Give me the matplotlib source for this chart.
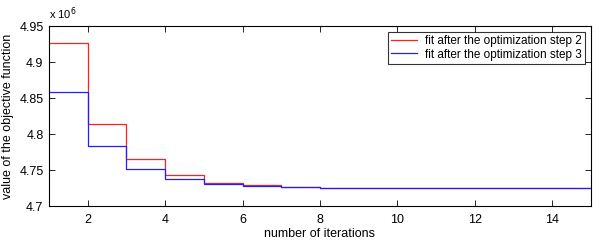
import matplotlib
matplotlib.use("Agg")
import matplotlib.pyplot as plt
from matplotlib.ticker import FuncFormatter, MultipleLocator

plt.rcParams['font.family'] = ['Liberation Sans', 'DejaVu Sans']

iterations = list(range(1, 16))
step2 = [4.926e6, 4.814e6, 4.765e6, 4.743e6, 4.732e6, 4.729e6, 4.7264e6, 4.7255e6,
         4.7248e6, 4.7247e6, 4.7247e6, 4.7247e6, 4.7247e6, 4.7247e6, 4.7247e6]
step3 = [4.858e6, 4.784e6, 4.752e6, 4.737e6, 4.731e6, 4.728e6, 4.7265e6, 4.7255e6,
         4.7248e6, 4.7247e6, 4.7247e6, 4.7247e6, 4.7247e6, 4.7247e6, 4.7247e6]
labels = ['fit after the optimization step 2', 'fit after the optimization step 3']

fig = plt.figure(figsize=(6.0, 2.49), dpi=100)
ax = fig.add_axes([49/600, 1 - 206/249, (591-49)/600, (206-26)/249])

ax.plot(iterations, step2, drawstyle='steps-post', color='#ff2020', lw=0.9, label=labels[0])
ax.plot(iterations, step3, drawstyle='steps-post', color='#2020ff', lw=0.9, label=labels[1])

ax.set_xlim(1, 15)
ax.set_ylim(4.7e6, 4.95e6)
ax.xaxis.set_major_locator(MultipleLocator(2))
ax.yaxis.set_major_locator(MultipleLocator(0.05e6))
ax.yaxis.set_major_formatter(FuncFormatter(lambda v, p: '%g' % round(v / 1e6, 4)))
ax.tick_params(direction='in', top=True, right=True, labelsize=9, length=4, width=0.6)
ax.tick_params(axis='x', pad=6)
ax.tick_params(axis='y', pad=4)
for s in ax.spines.values():
    s.set_linewidth(0.8)

ax.set_xlabel('number of iterations', fontsize=9, labelpad=1)
ax.set_ylabel('value of the objective function', fontsize=9, labelpad=4)
ax.text(0.0, 1.02, r'x 10$^6$', transform=ax.transAxes, fontsize=8, ha='left', va='bottom')

leg = ax.legend(loc='upper right', fontsize=8.5, frameon=True, fancybox=False,
                edgecolor='black', borderpad=0.25, handlelength=2.2, labelspacing=0.15,
                borderaxespad=0.5, handletextpad=0.7)
leg.get_frame().set_linewidth(0.8)

fig.savefig('out.png', dpi=100)
